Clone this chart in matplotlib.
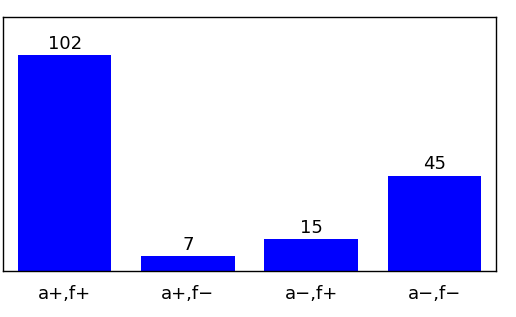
import matplotlib
matplotlib.use('Agg')
import matplotlib.pyplot as plt

categories = ['a+,f+', 'a+,f\u2212', 'a\u2212,f+', 'a\u2212,f\u2212']
counts = [102, 7, 15, 45]

fig = plt.figure(figsize=(5.16, 3.17), dpi=100)
ax = fig.add_axes([3 / 516, 46 / 317, 493 / 516, 254 / 317])

bars = ax.bar(range(len(categories)), counts, width=0.76, color='#0000ff')
for b, v in zip(bars, counts):
    ax.text(b.get_x() + b.get_width() / 2, v + 1.2, str(v),
            ha='center', va='bottom', fontsize=13)

ax.set_xlim(-0.5, 3.5)
ax.set_ylim(0, 120)
ax.set_xticks(range(len(categories)))
ax.set_xticklabels(categories, fontsize=13)
ax.tick_params(axis='x', length=0, pad=10)
ax.set_yticks([])
for s in ax.spines.values():
    s.set_linewidth(1)

fig.savefig('out.png', dpi=100)
